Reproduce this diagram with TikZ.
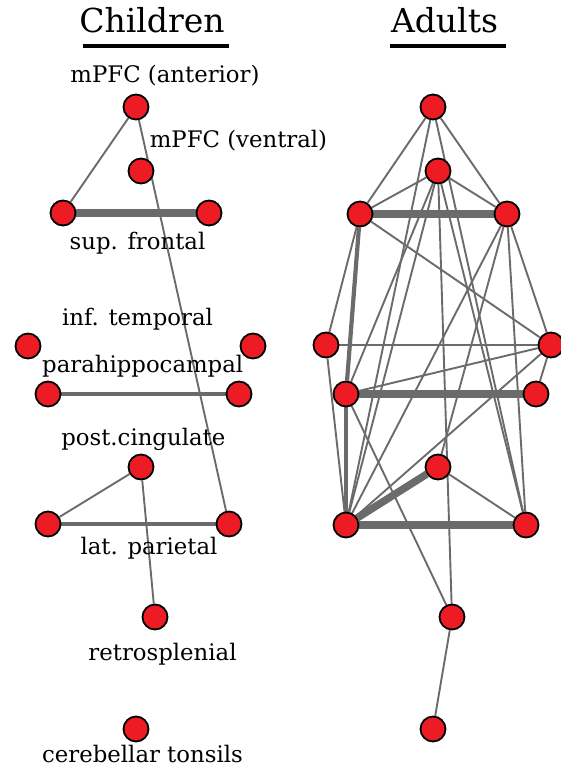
\documentclass[tikz,border=0pt]{standalone}
\usepackage{fontspec}
\setmainfont{DejaVu Serif}
\definecolor{edgegray}{HTML}{6B6B6B}
\definecolor{nodered}{HTML}{ED1C24}
\pgfdeclarelayer{background}
\pgfsetlayers{background,main}
\tikzset{
  region/.style={circle, fill=nodered, draw=black, line width=1.8pt, minimum size=25pt, inner sep=0pt},
  lbl/.style={anchor=base, font=\fontsize{22.8}{26}\selectfont, inner sep=0pt},
  ttl/.style={anchor=base, font=\fontsize{33}{38}\selectfont, inner sep=0pt},
  ulbar/.style={draw=black, line width=4.5pt},
  wthin/.style={draw=edgegray, line width=1.9pt},
  wmed/.style={draw=edgegray, line width=4.2pt},
  wthick/.style={draw=edgegray, line width=7.5pt}
}
\begin{document}
\begin{tikzpicture}[x=1pt, y=-1pt]
\useasboundingbox (0,0) rectangle (561,767);
% titles
\node[ttl] (tC) at (152,33) {Children};
\node[ttl] (tA) at (444.5,33) {Adults};
\coordinate (ucl) at (82.5,45.8);
\coordinate (ucr) at (228.5,45.8);
\coordinate (ual) at (390,45.8);
\coordinate (uar) at (506,45.8);
\draw[ulbar] (ucl) -- (ucr);
\draw[ulbar] (ual) -- (uar);
% labels
\node[lbl] (l1) at (165,83) {mPFC (anterior)};
\node[lbl] (l2) at (238.5,147.5) {mPFC (ventral)};
\node[lbl] (l3) at (137.5,249) {sup. frontal};
\node[lbl] (l4) at (137.5,325) {inf. temporal};
\node[lbl] (l5) at (142.7,372.5) {parahippocampal};
\node[lbl] (l6) at (143.3,445) {post.cingulate};
\node[lbl] (l7) at (149,554) {lat. parietal};
\node[lbl] (l8) at (162.5,660.5) {retrosplenial};
\node[lbl] (l9) at (142.5,762) {cerebellar tonsils};
% children nodes
\node[region] (ca) at (136,107) {};
\node[region] (cb) at (141,171) {};
\node[region] (cc) at (63,213) {};
\node[region] (cd) at (209,213) {};
\node[region] (ce) at (28,346) {};
\node[region] (cf) at (253,346) {};
\node[region] (cg) at (48,394) {};
\node[region] (ch) at (239,394) {};
\node[region] (ci) at (141,467) {};
\node[region] (cj) at (48,524) {};
\node[region] (ck) at (229,524) {};
\node[region] (cl) at (155,617) {};
\node[region] (cm) at (136,729) {};
% adult nodes
\node[region] (A) at (433,107) {};
\node[region] (B) at (438,171) {};
\node[region] (C) at (360,214) {};
\node[region] (D) at (507,214) {};
\node[region] (E) at (326,345) {};
\node[region] (F) at (551,345) {};
\node[region] (G) at (346,394) {};
\node[region] (H) at (536,394) {};
\node[region] (I) at (438,467) {};
\node[region] (J) at (346,525) {};
\node[region] (K) at (526,525) {};
\node[region] (L) at (452,617) {};
\node[region] (M) at (433,729) {};
\begin{pgfonlayer}{background}
% children edges
\draw[wthin] (ca) -- (cc);
\draw[wthin] (ca) -- (ck);
\draw[wthick] (cc) -- (cd);
\draw[wmed] (cg) -- (ch);
\draw[wthin] (ci) -- (cj);
\draw[wthin] (ci) -- (cl);
\draw[wmed] (cj) -- (ck);
% adult edges
\draw[wthin] (A) -- (C);
\draw[wthin] (A) -- (D);
\draw[wthin] (A) -- (J);
\draw[wthin] (A) -- (K);
\draw[wthin] (B) -- (C);
\draw[wthin] (B) -- (D);
\draw[wthin] (B) -- (G);
\draw[wthin] (B) -- (J);
\draw[wthin] (B) -- (K);
\draw[wthin] (B) -- (L);
\draw[wthick] (C) -- (D);
\draw[wthin] (C) -- (E);
\draw[wthin] (C) -- (F);
\draw[wmed] (C) -- (G);
\draw[wthin] (D) -- (F);
\draw[wthin] (D) -- (J);
\draw[wthin] (D) -- (I);
\draw[wthin] (D) -- (K);
\draw[wthin] (E) -- (F);
\draw[wthin] (E) -- (J);
\draw[wthin] (F) -- (G);
\draw[wthin] (F) -- (H);
\draw[wthin] (F) -- (J);
\draw[wthick] (G) -- (H);
\draw[wmed] (G) -- (J);
\draw[wthin] (G) -- (L);
\draw[wthick] (I) -- (J);
\draw[wthin] (I) -- (K);
\draw[wthick] (J) -- (K);
\draw[wthin] (L) -- (M);
\end{pgfonlayer}
\end{tikzpicture}
\end{document}
